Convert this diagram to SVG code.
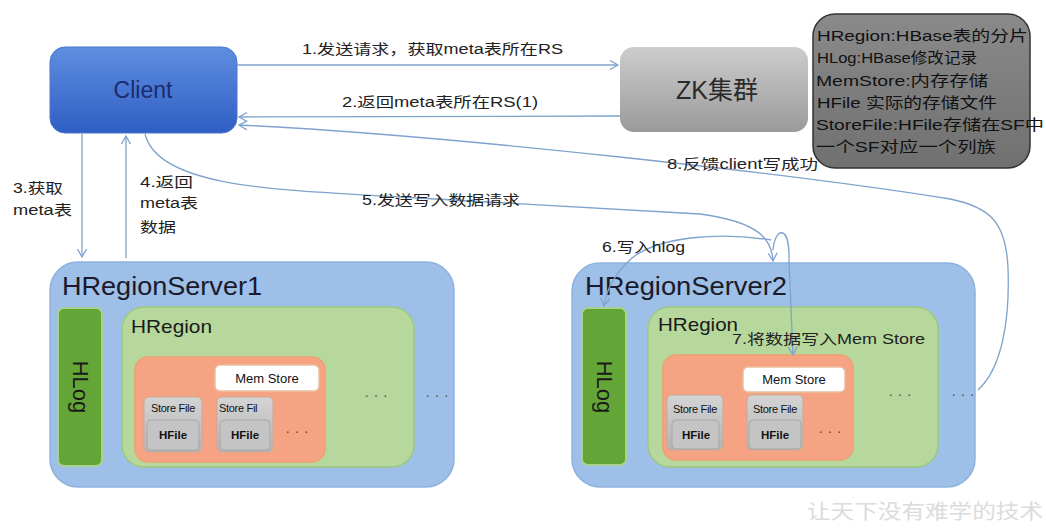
<svg xmlns="http://www.w3.org/2000/svg" width="1046" height="531" viewBox="0 0 1046 531">
<defs>
<linearGradient id="gClient" x1="0" y1="0" x2="0" y2="1">
<stop offset="0" stop-color="#5f8ee0"/><stop offset="1" stop-color="#2f5ec4"/>
</linearGradient>
<linearGradient id="gZK" x1="0" y1="0" x2="0" y2="1">
<stop offset="0" stop-color="#cdcdcd"/><stop offset="1" stop-color="#9a9a9a"/>
</linearGradient>
<linearGradient id="gLeg" x1="0" y1="0" x2="0" y2="1">
<stop offset="0" stop-color="#8a8a8a"/><stop offset="1" stop-color="#707070"/>
</linearGradient>
<linearGradient id="gSF" x1="0" y1="0" x2="0" y2="1">
<stop offset="0" stop-color="#d4d4d4"/><stop offset="1" stop-color="#b4b4b4"/>
</linearGradient>
<marker id="arr" markerWidth="12" markerHeight="12" refX="9" refY="5" orient="auto" markerUnits="userSpaceOnUse">
<polyline points="1,0.5 9,5 1,9.5" fill="none" stroke="#7fa3cc" stroke-width="1.3"/>
</marker>
<style>
.cn{fill:none;stroke:#7fa3cc;stroke-width:1.3}
.lbl{font-family:"Liberation Sans","Noto Sans CJK SC",sans-serif;font-size:14px;fill:#222}
.leg{font-family:"Liberation Sans","Noto Sans CJK SC",sans-serif;font-size:15px;fill:#111}
.srv{fill:#9dbfe8;stroke:#8eb2de;stroke-width:1.5}
.srvT{font-family:"Liberation Sans","Noto Sans",sans-serif;font-size:25px;fill:#1a1a2a}
.hlog{fill:#63a536;stroke:#a9d08e;stroke-width:2}
.hlogT{font-family:"Liberation Sans","Noto Sans",sans-serif;font-size:22px;fill:#1a1a1a}
.reg{fill:#b6d89c;stroke:#9cc97c;stroke-width:1.5}
.regT{font-family:"Liberation Sans","Noto Sans",sans-serif;font-size:19px;fill:#1a1a1a}
.st{fill:#f6a383;stroke:#eea070;stroke-width:1.5}
.mem{fill:#ffffff;stroke:#e9c0a0;stroke-width:1.5}
.memT{font-family:"Liberation Sans","Noto Sans",sans-serif;font-size:13px;fill:#111}
.sf{fill:url(#gSF);stroke:#c9a99a;stroke-width:1}
.sfT{font-family:"Liberation Sans","Noto Sans",sans-serif;font-size:11px;fill:#111;letter-spacing:-0.3px}
.hf{fill:#c4c4c4;stroke:#a8a8a8;stroke-width:1}
.hfT{font-family:"Liberation Sans","Noto Sans",sans-serif;font-size:11.5px;font-weight:bold;fill:#111}
.dots{font-family:"Liberation Sans",sans-serif;font-size:15px;fill:#555}
.dotsR{font-family:"Liberation Sans",sans-serif;font-size:15px;fill:#8a3a20}
</style>
</defs>
<rect width="1046" height="531" fill="#ffffff"/>

<g id="client">
<rect x="50" y="47" width="187" height="86" rx="15" fill="url(#gClient)" stroke="#4a76cc" stroke-width="1"/>
<text x="143" y="98" text-anchor="middle" font-family="Liberation Sans, sans-serif" font-size="23" fill="#1c2b6e">Client</text>
</g>

<g id="zk">
<rect x="620" y="47" width="188" height="85" rx="14" fill="url(#gZK)"/>
<text x="717" y="99" text-anchor="middle" font-family="Liberation Sans, Noto Sans CJK SC, sans-serif" font-size="25" fill="#2a2a2a">ZK集群</text>
</g>

<g id="legend">
<rect x="813" y="14" width="217" height="154" rx="22" fill="url(#gLeg)" stroke="#333" stroke-width="1.5"/>
<text class="leg" x="817" y="41" textLength="211" lengthAdjust="spacingAndGlyphs">HRegion:HBase表的分片</text>
<text class="leg" x="817" y="63" textLength="160" lengthAdjust="spacingAndGlyphs">HLog:HBase修改记录</text>
<text class="leg" x="816" y="86" textLength="172" lengthAdjust="spacingAndGlyphs">MemStore:内存存储</text>
<text class="leg" x="817" y="108" textLength="180" lengthAdjust="spacingAndGlyphs">HFile 实际的存储文件</text>
<text class="leg" x="816" y="130" textLength="228" lengthAdjust="spacingAndGlyphs">StoreFile:HFile存储在SF中</text>
<text class="leg" x="816" y="152" textLength="180" lengthAdjust="spacingAndGlyphs">一个SF对应一个列族</text>
</g>

<g id="server1">
<rect class="srv" x="50" y="262" width="404" height="225" rx="28"/>
<text class="srvT" x="62" y="295" textLength="200" lengthAdjust="spacingAndGlyphs">HRegionServer1</text>
<rect class="hlog" x="58" y="308" width="44" height="158" rx="6"/>
<text class="hlogT" transform="translate(73,387) rotate(90)" text-anchor="middle">HLog</text>
<rect class="reg" x="122" y="307" width="292" height="160" rx="22"/>
<text class="regT" x="131" y="333" textLength="81" lengthAdjust="spacingAndGlyphs">HRegion</text>
<rect class="st" x="135" y="357" width="190" height="105" rx="13"/>
<rect class="mem" x="215" y="365" width="104" height="26" rx="5"/>
<text class="memT" x="267" y="383" text-anchor="middle">Mem  Store</text>
<rect class="sf" x="144" y="397" width="58" height="55" rx="5"/>
<text class="sfT" x="173" y="412" text-anchor="middle">Store File</text>
<rect class="hf" x="147" y="420" width="52" height="30" rx="4"/>
<text class="hfT" x="173" y="439" text-anchor="middle">HFile</text>
<rect class="sf" x="217" y="397" width="56" height="55" rx="5"/>
<text class="sfT" x="219" y="412">Store Fil</text>
<rect class="hf" x="220" y="420" width="50" height="30" rx="4"/>
<text class="hfT" x="245" y="439" text-anchor="middle">HFile</text>
<text class="dotsR" x="297" y="436" text-anchor="middle">· · ·</text>
<text class="dots" x="376" y="400" text-anchor="middle">· · ·</text>
<text class="dots" x="437" y="400" text-anchor="middle">· · ·</text>
</g>

<g id="server2">
<rect class="srv" x="572" y="263" width="403" height="224" rx="28"/>
<text class="srvT" x="585" y="295" textLength="202" lengthAdjust="spacingAndGlyphs">HRegionServer2</text>
<rect class="hlog" x="582" y="308" width="44" height="157" rx="6"/>
<text class="hlogT" transform="translate(597,387) rotate(90)" text-anchor="middle">HLog</text>
<rect class="reg" x="648" y="307" width="290" height="160" rx="22"/>
<text class="regT" x="658" y="331" textLength="80" lengthAdjust="spacingAndGlyphs">HRegion</text>
<rect class="st" x="663" y="355" width="190" height="105" rx="13"/>
<rect class="mem" x="743" y="367" width="102" height="25" rx="5"/>
<text class="memT" x="794" y="384" text-anchor="middle">Mem Store</text>
<rect class="sf" x="667" y="395" width="56" height="55" rx="5"/>
<text class="sfT" x="695" y="413" text-anchor="middle">Store File</text>
<rect class="hf" x="672" y="420" width="47" height="29" rx="4"/>
<text class="hfT" x="696" y="439" text-anchor="middle">HFile</text>
<rect class="sf" x="747" y="395" width="56" height="55" rx="5"/>
<text class="sfT" x="775" y="413" text-anchor="middle">Store File</text>
<rect class="hf" x="749" y="420" width="52" height="29" rx="4"/>
<text class="hfT" x="775" y="439" text-anchor="middle">HFile</text>
<text class="dotsR" x="830" y="436" text-anchor="middle">· · ·</text>
<text class="dots" x="900" y="399" text-anchor="middle">· · ·</text>
<text class="dots" x="963" y="399" text-anchor="middle">· · ·</text>
</g>

<g id="connectors">
<path class="cn" d="M237,65 L618,65" marker-end="url(#arr)"/>
<path class="cn" d="M620,116 L239,117" marker-end="url(#arr)"/>
<path class="cn" d="M82,134 L82,257" marker-end="url(#arr)"/>
<path class="cn" d="M126,258 L126,136" marker-end="url(#arr)"/>
<path class="cn" d="M145,134 C158,188 280,190 400,197 L700,214 C760,222 772,240 773,261" marker-end="url(#arr)"/>
<path class="cn" d="M771,240 C720,232 660,236 632,258 C614,274 606,292 604,306" marker-end="url(#arr)"/>
<path class="cn" d="M773,250 C774,230 790,220 789,262 L793,355" marker-end="url(#arr)"/>
<path class="cn" d="M978,390 C1002,368 1010,320 1008,268 C1006,222 990,207 950,199 C800,175 450,135 239,125" marker-end="url(#arr)"/>
<text class="lbl" x="302" y="54" textLength="261" lengthAdjust="spacingAndGlyphs">1.发送请求，获取meta表所在RS</text>
<text class="lbl" x="342" y="107" textLength="196" lengthAdjust="spacingAndGlyphs">2.返回meta表所在RS(1)</text>
<text class="lbl" x="13" y="193" textLength="50" lengthAdjust="spacingAndGlyphs">3.获取</text>
<text class="lbl" x="13" y="215" textLength="59" lengthAdjust="spacingAndGlyphs">meta表</text>
<text class="lbl" x="140" y="187" textLength="53" lengthAdjust="spacingAndGlyphs">4.返回</text>
<text class="lbl" x="140" y="208" textLength="58" lengthAdjust="spacingAndGlyphs">meta表</text>
<text class="lbl" x="140" y="232" textLength="36" lengthAdjust="spacingAndGlyphs">数据</text>
<text class="lbl" x="362" y="205" textLength="158" lengthAdjust="spacingAndGlyphs">5.发送写入数据请求</text>
<text class="lbl" x="602" y="252" textLength="83" lengthAdjust="spacingAndGlyphs">6.写入hlog</text>
<text class="lbl" x="732" y="344" textLength="193" lengthAdjust="spacingAndGlyphs">7.将数据写入Mem Store</text>
<text class="lbl" x="667" y="169" textLength="151" lengthAdjust="spacingAndGlyphs">8.反馈client写成功</text>
</g>

<text x="807" y="519" textLength="236" lengthAdjust="spacingAndGlyphs" font-family="Noto Sans CJK SC, sans-serif" font-size="20" fill="#dcdcdc">让天下没有难学的技术</text>
</svg>
